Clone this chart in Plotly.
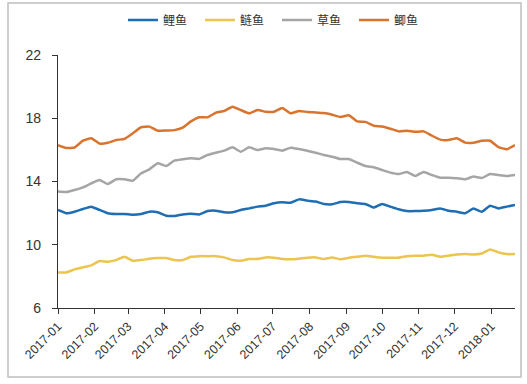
import pandas as pd
import plotly.graph_objects as go

dates = pd.date_range("2017-01-01", periods=56, freq="7D")

carp = [12.2, 11.99, 12.09, 12.26, 12.41, 12.2, 11.99, 11.94, 11.94, 11.9,
        11.94, 12.09, 12.05, 11.84, 11.82, 11.92, 11.96, 11.92, 12.13, 12.15,
        12.05, 12.05, 12.2, 12.3, 12.41, 12.47, 12.62, 12.68, 12.66, 12.87,
        12.79, 12.73, 12.58, 12.56, 12.7, 12.7, 12.62, 12.58, 12.35, 12.58,
        12.41, 12.24, 12.13, 12.13, 12.15, 12.2, 12.3, 12.15, 12.09, 11.99,
        12.3, 12.09, 12.47, 12.3, 12.41, 12.51]
silver = [8.25, 8.25, 8.44, 8.57, 8.7, 8.97, 8.93, 9.03, 9.24, 8.99,
          9.03, 9.12, 9.16, 9.16, 9.03, 9.03, 9.24, 9.28, 9.28, 9.28,
          9.2, 9.03, 8.99, 9.1, 9.1, 9.2, 9.18, 9.1, 9.08, 9.12,
          9.18, 9.2, 9.1, 9.2, 9.08, 9.18, 9.24, 9.31, 9.24, 9.18,
          9.18, 9.18, 9.28, 9.31, 9.31, 9.37, 9.24, 9.31, 9.39, 9.41,
          9.39, 9.45, 9.7, 9.52, 9.41, 9.41]
grass = [13.36, 13.33, 13.46, 13.63, 13.88, 14.09, 13.84, 14.14, 14.14, 14.05,
         14.52, 14.77, 15.15, 14.98, 15.32, 15.4, 15.47, 15.43, 15.68, 15.82,
         15.95, 16.16, 15.88, 16.16, 15.99, 16.1, 16.05, 15.95, 16.14, 16.05,
         15.95, 15.82, 15.68, 15.57, 15.42, 15.42, 15.19, 14.98, 14.9, 14.73,
         14.56, 14.47, 14.6, 14.35, 14.6, 14.41, 14.24, 14.24, 14.2, 14.14,
         14.31, 14.22, 14.47, 14.41, 14.35, 14.41]
crucian = [16.3, 16.12, 16.15, 16.58, 16.73, 16.4, 16.45, 16.62, 16.7, 17.05,
           17.43, 17.47, 17.21, 17.23, 17.25, 17.4, 17.8, 18.06, 18.06, 18.35,
           18.46, 18.73, 18.52, 18.31, 18.52, 18.41, 18.41, 18.65, 18.31, 18.46,
           18.4, 18.37, 18.33, 18.22, 18.08, 18.19, 17.8, 17.77, 17.53, 17.48,
           17.34, 17.17, 17.21, 17.14, 17.17, 16.9, 16.65, 16.62, 16.74, 16.46,
           16.45, 16.57, 16.58, 16.18, 16.04, 16.3]

series_names = ["鲤鱼", "鲢鱼", "草鱼", "鲫鱼"]
series_values = [carp, silver, grass, crucian]
colors = ["#1F6DB3", "#EBC54E", "#A5A5A5", "#D8742E"]

tick_vals = pd.date_range("2017-01-01", periods=13, freq="MS")
tick_text = [d.strftime("%Y-%m") for d in tick_vals]
y_ticks = [6, 10, 14, 18, 22]

fig = go.Figure()
for name, vals, c in zip(series_names, series_values, colors):
    fig.add_trace(go.Scatter(x=dates, y=vals, name=name, mode="lines",
                             line=dict(color=c, width=2.5, shape="spline", smoothing=0.4)))

L, R, T, B = 58, 12, 55, 76
W, H = 527, 384
pw, ph = W - L - R, H - T - B

def px(x):
    return (x - L) / pw

def py(y):
    return (H - B - y) / ph

fig.update_layout(
    width=W, height=H,
    margin=dict(l=L, r=R, t=T, b=B, autoexpand=False),
    paper_bgcolor="white", plot_bgcolor="white",
    font=dict(family="Liberation Sans, Arial", size=13, color="#333333"),
    showlegend=True,
    legend=dict(orientation="h", x=px(123), xanchor="left", y=py(20), yanchor="middle",
                font=dict(family="Noto Sans CJK SC", size=12, color="#333333"),
                entrywidth=32, entrywidthmode="pixels", itemwidth=30,
                bgcolor="rgba(0,0,0,0)"),
    xaxis=dict(range=[dates[0], dates[-1]], tickvals=tick_vals, ticktext=tick_text,
               tickangle=-45, ticks="outside", ticklen=5, tickcolor="#333333",
               showline=True, linecolor="#333333", linewidth=1.2, showgrid=False,
               zeroline=False, automargin=False, tickfont=dict(size=12.5, color="#333333")),
    yaxis=dict(range=[6, 22], tickvals=y_ticks, ticks="outside", ticklen=5,
               tickcolor="#333333", showline=True, linecolor="#333333", linewidth=1.2,
               showgrid=False, zeroline=False, automargin=False, ticklabelstandoff=8,
               tickfont=dict(size=14, color="#333333")),
    shapes=[dict(type="rect", xref="paper", yref="paper",
                 x0=px(8), x1=px(521), y0=py(377), y1=py(3),
                 line=dict(color="#BFBFBF", width=1.5), fillcolor="rgba(0,0,0,0)",
                 layer="below")],
)

fig.write_html("out.html", config={"displayModeBar": False},
               post_script="document.body.style.margin='0';")
